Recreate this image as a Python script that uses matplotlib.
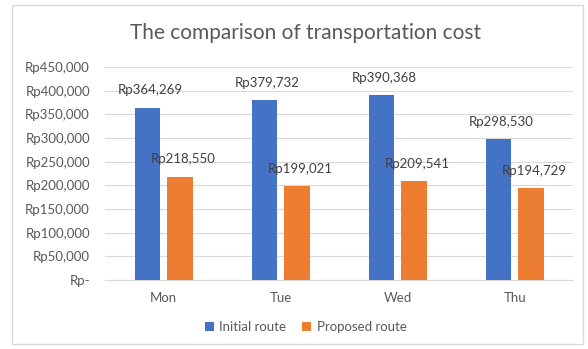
import numpy as np
import matplotlib.pyplot as plt
from matplotlib.ticker import FuncFormatter
from matplotlib.patches import Rectangle

days = ['Mon', 'Tue', 'Wed', 'Thu']
initial_route = [364269, 379732, 390368, 298530]
proposed_route = [218550, 199021, 209541, 194729]

plt.rcParams['font.family'] = ['Lato', 'DejaVu Sans']

x = np.arange(len(days))
w = 0.22

fig = plt.figure(figsize=(5.88, 3.49), dpi=100)
fig.patches.append(Rectangle((0.02, 0.015), 0.972, 0.972, transform=fig.transFigure,
                             fill=False, edgecolor='#d9d9d9', linewidth=1))
ax = fig.add_axes([0.179, 0.198, 0.796, 0.61])

b1 = ax.bar(x - 0.14, initial_route, width=w, color='#4472C4', label='Initial route', zorder=3)
b2 = ax.bar(x + 0.14, proposed_route, width=w, color='#ED7D31', label='Proposed route', zorder=3)

def rp(v, pos=None):
    if v == 0:
        return 'Rp-'
    return 'Rp{:,.0f}'.format(v)

for bars in (b1, b2):
    for b in bars:
        ax.annotate(rp(b.get_height()), (b.get_x() + b.get_width() / 2, b.get_height()),
                    xytext=(2, 8), textcoords='offset points', ha='center', va='bottom',
                    fontsize=9.5, color='#404040', zorder=4)

ax.set_xlim(-0.5, 3.5)
ax.set_ylim(0, 450000)
ax.set_yticks(np.arange(0, 450001, 50000))
ax.yaxis.set_major_formatter(FuncFormatter(rp))
ax.set_xticks(x, days)
ax.tick_params(length=0, labelsize=9.5, colors='#595959')
ax.tick_params(axis='y', pad=11)
ax.tick_params(axis='x', pad=9)
ax.grid(axis='y', color='#d9d9d9', linewidth=0.8, zorder=0)
for s in ['top', 'right', 'left']:
    ax.spines[s].set_visible(False)
ax.spines['bottom'].set_color('#d9d9d9')

fig.text(0.52, 0.905, 'The comparison of transportation cost', ha='center', va='center',
         fontsize=15, color='#595959')
fig.legend(loc='center', bbox_to_anchor=(0.52, 0.063), ncol=2, frameon=False,
           fontsize=9.5, handlelength=0.7, handleheight=0.7, handletextpad=0.4,
           columnspacing=1.2, labelcolor='#595959')

plt.savefig('out.png', dpi=100)
